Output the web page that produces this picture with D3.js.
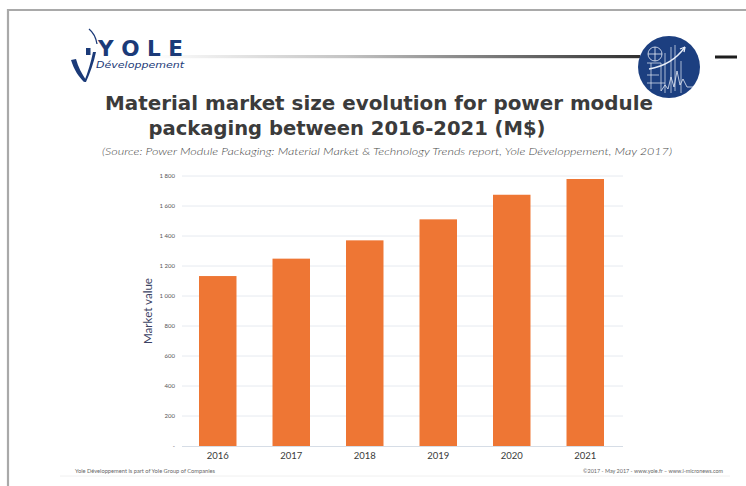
<!DOCTYPE html>
<html>
<head>
<meta charset="utf-8">
<script src="https://cdn.jsdelivr.net/npm/d3@7"></script>
<style>
  html, body { margin: 0; padding: 0; background: #fff; }
  svg { display: block; }
</style>
</head>
<body>
<svg id="chart" width="746" height="486"></svg>
<script>
// ---- data ----
const years = ["2016", "2017", "2018", "2019", "2020", "2021"];
const marketValues = [1133, 1249, 1371, 1511, 1675, 1780];
const yTicks = [0, 200, 400, 600, 800, 1000, 1200, 1400, 1600, 1800];
const titleLines = ["Material market size evolution for power module", "packaging between 2016-2021 (M$)"];
const sourceText = "(Source: Power Module Packaging: Material Market & Technology Trends report, Yole Développement, May 2017)";
const yAxisTitle = "Market value";
const footerLeft = "Yole Développement is part of Yole Group of Companies";
const footerRight = "©2017 - May 2017 - www.yole.fr – www.i-micronews.com";

const svg = d3.select("#chart");

// ---- slide frame ----
svg.append("line").attr("x1", 7).attr("x2", 746).attr("y1", 10).attr("y2", 10)
  .attr("stroke", "#a9a9a9").attr("stroke-width", 2.2);
svg.append("line").attr("x1", 8).attr("x2", 8).attr("y1", 9).attr("y2", 486)
  .attr("stroke", "#a9a9a9").attr("stroke-width", 2.2);

// ---- header rule with gradient ----
const defs = svg.append("defs");
const grad = defs.append("linearGradient").attr("id", "rule").attr("x1", "0%").attr("x2", "100%");
grad.append("stop").attr("offset", "0%").attr("stop-color", "#ffffff");
grad.append("stop").attr("offset", "40%").attr("stop-color", "#c4c4c4");
grad.append("stop").attr("offset", "100%").attr("stop-color", "#303030");
svg.append("rect").attr("x", 150).attr("y", 55).attr("width", 490).attr("height", 3.2).attr("fill", "url(#rule)");
svg.append("rect").attr("x", 715).attr("y", 55.5).attr("width", 22).attr("height", 3).attr("fill", "#1e1e1e");

// ---- Yole logo ----
const logo = svg.append("g");
const navy = "#1b3a78";
logo.append("path").attr("d", "M71,60 C74,70 79,77 84,82 L86,80 C82,74 78,67 76,59 Z").attr("fill", navy);
logo.append("path").attr("d", "M84,82 C88,72 91,62 93,52 L96,52 C94,62 90,73 86,82 Z").attr("fill", navy);
logo.append("path").attr("d", "M89,29 C94,33 96,38 97,44").attr("fill", "none").attr("stroke", navy).attr("stroke-width", 1.3);
logo.append("rect").attr("x", 86).attr("y", 48).attr("width", 4.5).attr("height", 7).attr("fill", navy);
logo.append("text").attr("x", 98).attr("y", 56).text("Y O L E")
  .attr("font-family", "DejaVu Sans, sans-serif").attr("font-weight", "bold").attr("font-size", 21)
  .attr("fill", navy).attr("textLength", 85).attr("lengthAdjust", "spacingAndGlyphs");
logo.append("text").attr("x", 96).attr("y", 67.5).text("Développement")
  .attr("font-family", "DejaVu Sans, sans-serif").attr("font-style", "italic").attr("font-size", 8)
  .attr("fill", navy).attr("textLength", 88).attr("lengthAdjust", "spacingAndGlyphs");

// ---- circle emblem ----
const em = svg.append("g").attr("transform", "translate(669,67)");
em.append("circle").attr("r", 31).attr("fill", "#1c3f80");
const w = "#e8eef8";
em.append("circle").attr("cx", -14).attr("cy", -13).attr("r", 7).attr("fill", "none").attr("stroke", w).attr("stroke-width", 0.8);
em.append("path").attr("d", "M-21,-13 H-7 M-14,-20 V-6").attr("stroke", w).attr("stroke-width", 0.8);
em.append("path").attr("d", "M-22,-4 H-8 V24 M-18,-4 V22 M-4,-14 V26 M2,-20 V26 M6,-22 V24 M12,-6 V26 M-22,8 H-10 M-22,16 H-4")
  .attr("fill", "none").attr("stroke", w).attr("stroke-width", 0.7);
em.append("path").attr("d", "M-20,2 C-8,0 6,-6 16,-20").attr("fill", "none").attr("stroke", w).attr("stroke-width", 1.3);
em.append("path").attr("d", "M16,-20 L11,-18 M16,-20 L15,-15").attr("fill", "none").attr("stroke", w).attr("stroke-width", 1.3);
em.append("path").attr("d", "M-8,24 L-4,18 L-1,22 L2,10 L5,20 L8,4 L11,18 L14,12 L18,20 L24,20")
  .attr("fill", "none").attr("stroke", w).attr("stroke-width", 0.8);

// ---- titles ----
const titleFont = "DejaVu Sans, Verdana, sans-serif";
svg.append("text").attr("x", 379).attr("y", 109.5).text(titleLines[0])
  .attr("text-anchor", "middle").attr("font-family", titleFont).attr("font-weight", "bold")
  .attr("font-size", 19.5).attr("fill", "#3b3b3b").attr("textLength", 548).attr("lengthAdjust", "spacingAndGlyphs");
svg.append("text").attr("x", 347).attr("y", 135).text(titleLines[1])
  .attr("text-anchor", "middle").attr("font-family", titleFont).attr("font-weight", "bold")
  .attr("font-size", 19.5).attr("fill", "#3b3b3b").attr("textLength", 397).attr("lengthAdjust", "spacingAndGlyphs");
svg.append("text").attr("x", 387).attr("y", 155).text(sourceText)
  .attr("text-anchor", "middle").attr("font-family", "Lato, 'Open Sans', sans-serif").attr("font-style", "italic")
  .attr("font-weight", 300).attr("font-size", 9.5).attr("fill", "#4a4a4a")
  .attr("textLength", 570).attr("lengthAdjust", "spacingAndGlyphs");

// ---- chart ----
const x = d3.scaleBand().domain(years).range([181, 622]).paddingInner(0.49).paddingOuter(0.245);
const y = d3.scaleLinear().domain([0, 1800]).range([446, 176]);

const fmt = d => d === 0 ? "-" : d3.format(",")(d).replace(",", " ");

// gridlines
svg.append("g").selectAll("line").data(yTicks.filter(d => d > 0)).join("line")
  .attr("x1", 182).attr("x2", 623)
  .attr("y1", d => y(d)).attr("y2", d => y(d))
  .attr("stroke", "#dfe5ec").attr("stroke-width", 0.8);

// y axis
const yAxis = svg.append("g").attr("transform", "translate(182,0)")
  .call(d3.axisLeft(y).tickValues(yTicks).tickFormat(fmt).tickSize(0).tickPadding(7));
yAxis.select(".domain").remove();
yAxis.selectAll("text").attr("font-family", "Lato, sans-serif").attr("font-size", 6).attr("fill", "#555");

// bars
svg.append("g").selectAll("rect").data(years).join("rect")
  .attr("x", d => x(d)).attr("width", x.bandwidth())
  .attr("y", (d, i) => y(marketValues[i]))
  .attr("height", (d, i) => y(0) - y(marketValues[i]))
  .attr("fill", "#ee7634");

// x axis
const xAxis = svg.append("g").attr("transform", `translate(0,${y(0)})`)
  .call(d3.axisBottom(x).tickSize(0).tickPadding(6));
xAxis.select(".domain").attr("d", "M182,0.5H623").attr("stroke", "#d6dde6");
xAxis.selectAll("text").attr("font-family", "Lato, sans-serif").attr("font-size", 9.5).attr("fill", "#3a3a3a");

// y title
svg.append("text").attr("transform", "translate(152,311) rotate(-90)").text(yAxisTitle)
  .attr("text-anchor", "middle").attr("font-family", "Lato, sans-serif").attr("font-size", 11)
  .attr("fill", "#3b4263").attr("textLength", 66).attr("lengthAdjust", "spacingAndGlyphs");

// ---- footer ----
svg.append("line").attr("x1", 60).attr("x2", 730).attr("y1", 476).attr("y2", 476)
  .attr("stroke", "#f0f0f0").attr("stroke-width", 1);
svg.append("text").attr("x", 75).attr("y", 473).text(footerLeft)
  .attr("font-family", "Lato, sans-serif").attr("font-size", 5.5).attr("fill", "#666")
  .attr("textLength", 140).attr("lengthAdjust", "spacingAndGlyphs");
svg.append("text").attr("x", 583).attr("y", 473).text(footerRight)
  .attr("font-family", "Lato, sans-serif").attr("font-size", 5.5).attr("fill", "#666")
  .attr("textLength", 140).attr("lengthAdjust", "spacingAndGlyphs");
</script>
</body>
</html>
